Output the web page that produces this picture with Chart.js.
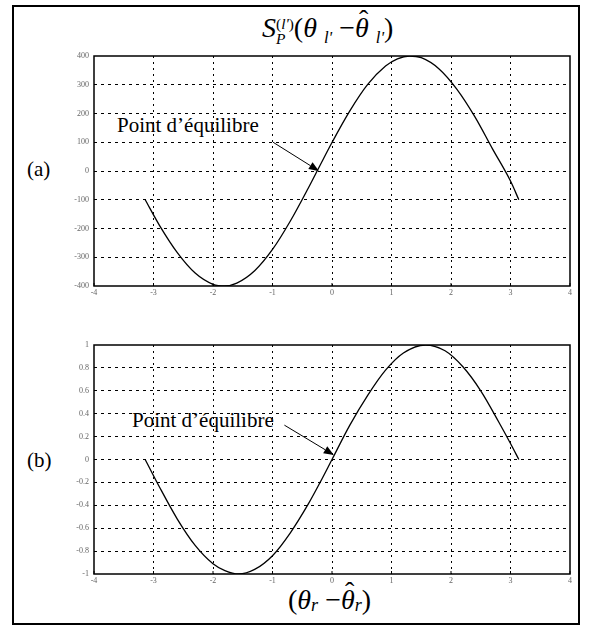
<!DOCTYPE html>
<html>
<head>
<meta charset="utf-8">
<script src="https://cdn.jsdelivr.net/npm/chart.js@4/dist/chart.umd.min.js"></script>
<style>
  body { margin: 0; background: #fff; width: 591px; height: 625px; overflow: hidden; position: relative; }
  .abs { position: absolute; font-family: 'Liberation Serif', serif; color: #000; white-space: nowrap; }
  #frame { position: absolute; left: 12px; top: 5px; width: 564px; height: 616px; border: 2px solid #000; }
  canvas { position: absolute; left: 50px; }
  .ss { display: inline-block; vertical-align: -0.45em; line-height: 0.95em; font-size: 0.55em; text-align: left; }
  .lo { font-size: 0.6em; vertical-align: -0.35em; font-style: italic; }
  .hat { position: relative; display: inline-block; font-style: italic; }
  .hat span { position: absolute; left: 0.14em; top: -0.3em; font-style: normal; }
</style>
</head>
<body>
<div id="frame"></div>
<div class="abs" style="left:262px; top:12px; font-size:28px;"><i>S</i><span class="ss">(<i>l'</i>)<br><i>P</i></span>(<i>θ</i> <span class="lo">l'</span> −<span class="hat">θ<span>ˆ</span></span> <span class="lo">l'</span>)</div>
<div class="abs" style="left:27px; top:157px; font-size:21px;">(a)</div>
<div class="abs" style="left:27px; top:448px; font-size:21px;">(b)</div>
<div class="abs" style="left:117px; top:115px; font-size:21px; line-height:21px;">Point d’équilibre</div>
<div class="abs" style="left:132px; top:410px; font-size:21px; line-height:21px;">Point d’équilibre</div>
<div class="abs" style="left:288px; top:584px; font-size:28px;">(<i>θ</i><span class="lo" style="font-size:0.65em;vertical-align:-0.1em">r</span> −<span class="hat">θ<span>ˆ</span></span><span class="lo" style="font-size:0.65em;vertical-align:-0.1em">r</span>)</div>

<canvas id="chartA" width="530" height="254" style="top:46px;"></canvas>
<canvas id="chartB" width="530" height="253" style="top:335px;"></canvas>

<script>
'use strict';
// valeurs
var xTop = [-3.14, -2.9, -2.6, -2.3, -2.0, -1.8, -1.6, -1.3, -1.0, -0.7, -0.4, -0.2, 0, 0.3, 0.6, 0.9, 1.1, 1.3, 1.5, 1.8, 2.1, 2.4, 2.7, 3.0, 3.14];
var yTop = [-100, -189, -284, -355, -394, -400, -390, -347, -273, -174, -60, 20, 99, 209, 301, 365, 390, 400, 394, 355, 284, 189, 76, -35, -100];

var xBot = [-3.14, -2.9, -2.6, -2.3, -2.0, -1.8, -1.57, -1.3, -1.0, -0.7, -0.4, -0.2, 0, 0.3, 0.6, 0.9, 1.2, 1.57, 1.9, 2.2, 2.5, 2.8, 3.0, 3.14];
var yBot = [0, -0.24, -0.52, -0.75, -0.91, -0.97, -1.0, -0.96, -0.84, -0.64, -0.39, -0.2, 0, 0.3, 0.56, 0.78, 0.93, 1.0, 0.95, 0.81, 0.6, 0.33, 0.14, 0];

var arrowTop = { tail: [-0.99, 100], tip: [-0.22, 0] };
var arrowBot = { tail: [-0.8, 0.3], tip: [0.03, 0.04] };

function points(xs, ys) {
    return xs.map(function (x, i) { return { x: x, y: ys[i] }; });
}

var cadre = {
    id : 'cadre',
    afterDatasetsDraw : function (chart, args, opts) {
        var ctx = chart.ctx, a = chart.chartArea;
        var sx = chart.scales.x, sy = chart.scales.y;
        ctx.save();
        ctx.setLineDash([]);
        ctx.strokeStyle = '#000';
        ctx.lineWidth = 1.5;
        ctx.strokeRect(a.left, a.top, a.right - a.left, a.bottom - a.top);
        // petites graduations
        ctx.lineWidth = 1;
        sx.ticks.forEach(function (t) {
            var px = sx.getPixelForValue(t.value);
            ctx.beginPath(); ctx.moveTo(px, a.bottom); ctx.lineTo(px, a.bottom - 3); ctx.stroke();
        });
        // fleche
        var x1 = sx.getPixelForValue(opts.tail[0]), y1 = sy.getPixelForValue(opts.tail[1]);
        var x2 = sx.getPixelForValue(opts.tip[0]),  y2 = sy.getPixelForValue(opts.tip[1]);
        var ang = Math.atan2(y2 - y1, x2 - x1), L = 10, W = 4;
        ctx.beginPath(); ctx.moveTo(x1, y1); ctx.lineTo(x2 - L * Math.cos(ang), y2 - L * Math.sin(ang)); ctx.stroke();
        ctx.beginPath();
        ctx.moveTo(x2, y2);
        ctx.lineTo(x2 - L * Math.cos(ang) + W * Math.sin(ang), y2 - L * Math.sin(ang) - W * Math.cos(ang));
        ctx.lineTo(x2 - L * Math.cos(ang) - W * Math.sin(ang), y2 - L * Math.sin(ang) + W * Math.cos(ang));
        ctx.closePath();
        ctx.fillStyle = '#000';
        ctx.fill();
        ctx.restore();
    }
};

function config(data, yMin, yMax, yStep, arrow) {
    var tickFont = { family: 'Liberation Serif', size: 8 };
    return {
        type : 'line',
        data : {
            datasets : [{
                data : data,
                borderColor : '#000',
                borderWidth : 1.3,
                pointRadius : 0,
                fill : false,
                cubicInterpolationMode : 'monotone'
            }]
        },
        options : {
            responsive : false,
            animation : false,
            layout : { padding : { top : 10, right : 10, left : 0, bottom : 0 } },
            plugins : {
                legend : { display : false },
                tooltip : { enabled : false },
                cadre : arrow
            },
            scales : {
                x : {
                    type : 'linear',
                    min : -4, max : 4,
                    ticks : { stepSize : 1, color : '#666', font : tickFont, padding : 2, maxRotation : 0 },
                    grid : {
                        drawTicks : false,
                        lineWidth : 1,
                        color : function (c) {
                            return (c.tick && Math.abs(c.tick.value) === 4) ? 'rgba(0,0,0,0)' : '#000';
                        }
                    },
                    border : { display : false, dash : [2, 4] },
                    afterFit : function (s) { s.height = 14; }
                },
                y : {
                    min : yMin, max : yMax,
                    ticks : {
                        stepSize : yStep, color : '#666', font : tickFont, padding : 5,
                        callback : function (v) { return Math.abs(v) < 1e-9 ? '0' : String(+v.toFixed(1)); }
                    },
                    grid : {
                        drawTicks : false,
                        lineWidth : 1,
                        color : function (c) {
                            return (c.tick && Math.abs(Math.abs(c.tick.value) - yMax) < 1e-6) ? 'rgba(0,0,0,0)' : '#000';
                        }
                    },
                    border : { display : false, dash : [3, 4] },
                    afterFit : function (s) { s.width = 44; }
                }
            }
        },
        plugins : [cadre]
    };
}

new Chart(document.getElementById('chartA').getContext('2d'), config(points(xTop, yTop), -400, 400, 100, arrowTop));
new Chart(document.getElementById('chartB').getContext('2d'), config(points(xBot, yBot), -1, 1, 0.2, arrowBot));
</script>
</body>
</html>
